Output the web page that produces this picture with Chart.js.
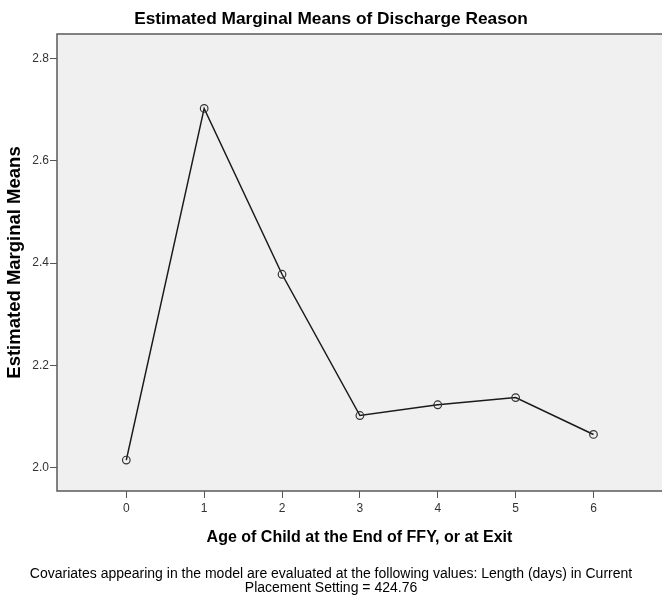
<!DOCTYPE html>
<html>
<head>
<meta charset="utf-8">
<script src="https://cdn.jsdelivr.net/npm/chart.js@4/dist/chart.umd.min.js"></script>
<style>
  html, body { margin: 0; padding: 0; background: #ffffff; overflow: hidden; }
  #wrap { width: 662px; height: 602px; }
  canvas { display: block; }
</style>
</head>
<body>
<div id="wrap"><canvas id="c" width="662" height="602"></canvas></div>
<script>
// ---- data ----
const ages = [0, 1, 2, 3, 4, 5, 6];
const meanValues = [2.015, 2.702, 2.378, 2.102, 2.123, 2.137, 2.065];
const xTickValues = [0, 1, 2, 3, 4, 5, 6];
const yTickValues = [2.0, 2.2, 2.4, 2.6, 2.8];
const chartTitle = 'Estimated Marginal Means of Discharge Reason';
const xTitle = 'Age of Child at the End of FFY, or at Exit';
const yTitle = 'Estimated Marginal Means';
const footnote = [
  'Covariates appearing in the model are evaluated at the following values: Length (days) in Current',
  'Placement Setting = 424.76'
];

const FONT = "'Liberation Sans', Arial, sans-serif";

const plotFrame = {
  id: 'plotFrame',
  beforeDatasetsDraw(chart) {
    const {ctx, chartArea: a} = chart;
    ctx.save();
    ctx.fillStyle = '#f0f0f0';
    ctx.fillRect(a.left, a.top, a.right - a.left, a.bottom - a.top);
    ctx.restore();
  },
  afterDraw(chart) {
    const {ctx, chartArea: a} = chart;
    ctx.save();
    ctx.strokeStyle = '#5a5a5a';
    ctx.lineWidth = 1.5;
    ctx.strokeRect(a.left, a.top, a.right - a.left + 2, a.bottom - a.top);
    ctx.restore();
  }
};

new Chart(document.getElementById('c'), {
  type: 'line',
  data: {
    datasets: [{
      data: ages.map((a, i) => ({x: a, y: meanValues[i]})),
      borderColor: '#1a1a1a',
      borderWidth: 1.5,
      pointRadius: 3.8,
      pointBorderWidth: 1.2,
      pointBorderColor: '#333333',
      pointBackgroundColor: 'rgba(0,0,0,0)',
      tension: 0,
      fill: false
    }]
  },
  options: {
    responsive: false,
    animation: false,
    events: [],
    layout: { padding: 0, autoPadding: false },
    plugins: {
      legend: { display: false },
      tooltip: { enabled: false },
      title: {
        display: true,
        text: chartTitle,
        color: '#000000',
        font: { family: FONT, size: 17.3, weight: 'bold', lineHeight: 1.2 },
        padding: { top: 9.1, bottom: 4.14 }
      },
      subtitle: {
        display: true,
        position: 'bottom',
        text: footnote,
        color: '#000000',
        font: { family: FONT, size: 14, weight: 'normal', lineHeight: 1.0 },
        padding: { top: 6, bottom: 7 }
      }
    },
    scales: {
      x: {
        type: 'linear',
        min: -0.89,
        max: 6.88,
        afterFit(s) { s.height = 70; },
        afterBuildTicks(s) { s.ticks = xTickValues.map(v => ({value: v})); },
        grid: { drawOnChartArea: false, drawTicks: true, tickLength: 7, color: '#555555', lineWidth: 1 },
        border: { display: false },
        ticks: {
          color: '#333333',
          padding: 3,
          maxRotation: 0,
          font: { family: FONT, size: 12 },
          callback: v => String(v)
        },
        title: {
          display: true,
          text: xTitle,
          color: '#000000',
          font: { family: FONT, size: 16, weight: 'bold', lineHeight: 1.2 },
          padding: { top: 0, bottom: 13.9 }
        }
      },
      y: {
        type: 'linear',
        min: 1.9545,
        max: 2.8475,
        afterFit(s) { s.width = 57; },
        afterBuildTicks(s) { s.ticks = yTickValues.map(v => ({value: v})); },
        grid: { drawOnChartArea: false, drawTicks: true, tickLength: 7, color: '#555555', lineWidth: 1 },
        border: { display: false },
        ticks: {
          color: '#333333',
          padding: 1,
          font: { family: FONT, size: 12 },
          callback: v => Number(v).toFixed(1)
        },
        title: {
          display: true,
          text: yTitle,
          color: '#000000',
          font: { family: FONT, size: 18.5, weight: 'bold', lineHeight: 1.2 },
          padding: { top: 4, bottom: 0 }
        }
      }
    }
  },
  plugins: [plotFrame]
});
</script>
</body>
</html>
